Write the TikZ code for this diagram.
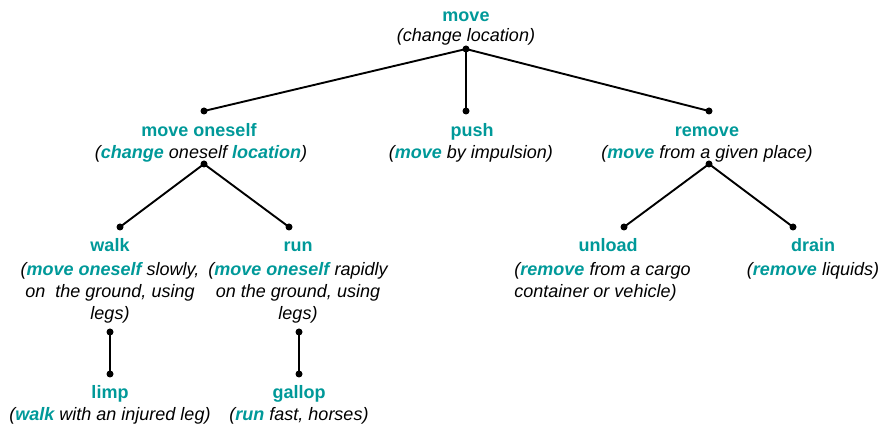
\documentclass[tikz,border=0pt]{standalone}
\usepackage{fontspec}
\setmainfont{Liberation Sans}
\definecolor{headword}{RGB}{0,153,153}
% a headword reused inside a gloss: bold, teal (italic from the gloss font)
\newcommand{\hw}[1]{\textbf{\textcolor{headword}{#1}}}
\begin{document}
\begin{tikzpicture}[x=1pt,y=-1pt,
  dot/.style={circle,fill=black,inner sep=0pt,minimum size=7pt},
  link/.style={line width=1.9pt},
  word/.style={font=\fontsize{18}{22}\selectfont\bfseries,text=headword,inner sep=0pt,anchor=base},
  gloss/.style={font=\fontsize{18}{22}\selectfont\itshape,align=center,inner sep=0pt,anchor=north},
  glossleft/.style={gloss,align=left}]
\useasboundingbox (0,0) rectangle (884,427);

% ---- words (baseline positions) and their glosses
\node[word]  (move)     at (466,21.5) {move};
\node[gloss] (moveG)    at (466,28.5) {(change location)};

\node[word]  (oneself)  at (199,137) {move oneself};
\node[gloss] (oneselfG) at (201,145) {(\hw{change} oneself \hw{location})};

\node[word]  (push)     at (472,137) {push};
\node[gloss] (pushG)    at (471,145) {(\hw{move} by impulsion)};

\node[word]  (remove)   at (707,137) {remove};
\node[gloss] (removeG)  at (707,145) {(\hw{move} from a given place)};

\node[word]  (walk)     at (110,252) {walk};
\node[gloss] (walkG)    at (110,262) {(\hw{move oneself} slowly,\\ on\ \ the ground, using\\ legs)};

\node[word]  (run)      at (298,252) {run};
\node[gloss] (runG)     at (298,262) {(\hw{move oneself} rapidly\\ on the ground, using\\ legs)};

\node[word]  (unload)   at (608,252) {unload};
\node[glossleft] (unloadG) at (602.5,262) {(\hw{remove} from a cargo\\ container or vehicle)};

\node[word]  (drain)    at (813,252) {drain};
\node[gloss] (drainG)   at (813,262) {(\hw{remove} liquids)};

\node[word]  (limp)     at (110,399) {limp};
\node[gloss] (limpG)    at (110,407) {(\hw{walk} with an injured leg)};

\node[word]  (gallop)   at (299,399) {gallop};
\node[gloss] (gallopG)  at (299,407) {(\hw{run} fast, horses)};

% ---- connection dots
\node[dot] (dMove)     at (466,49)  {};
\node[dot] (dOneself)  at (204,111) {};
\node[dot] (dOneselfB) at (204,164) {};
\node[dot] (dPush)     at (466,111) {};
\node[dot] (dRemove)   at (709,111) {};
\node[dot] (dRemoveB)  at (709,164) {};
\node[dot] (dWalk)     at (120,227) {};
\node[dot] (dRun)      at (289,227) {};
\node[dot] (dUnload)   at (624,227) {};
\node[dot] (dDrain)    at (793,227) {};
\node[dot] (dWalkB)    at (110,332) {};
\node[dot] (dRunB)     at (299,332) {};
\node[dot] (dLimp)     at (110,374) {};
\node[dot] (dGallop)   at (299,374) {};

% ---- hierarchy links
\draw[link] (dMove.center) -- (dOneself.center);
\draw[link] (dMove.center) -- (dPush.center);
\draw[link] (dMove.center) -- (dRemove.center);
\draw[link] (dOneselfB.center) -- (dWalk.center);
\draw[link] (dOneselfB.center) -- (dRun.center);
\draw[link] (dRemoveB.center) -- (dUnload.center);
\draw[link] (dRemoveB.center) -- (dDrain.center);
\draw[link] (dWalkB.center) -- (dLimp.center);
\draw[link] (dRunB.center) -- (dGallop.center);
\end{tikzpicture}
\end{document}
